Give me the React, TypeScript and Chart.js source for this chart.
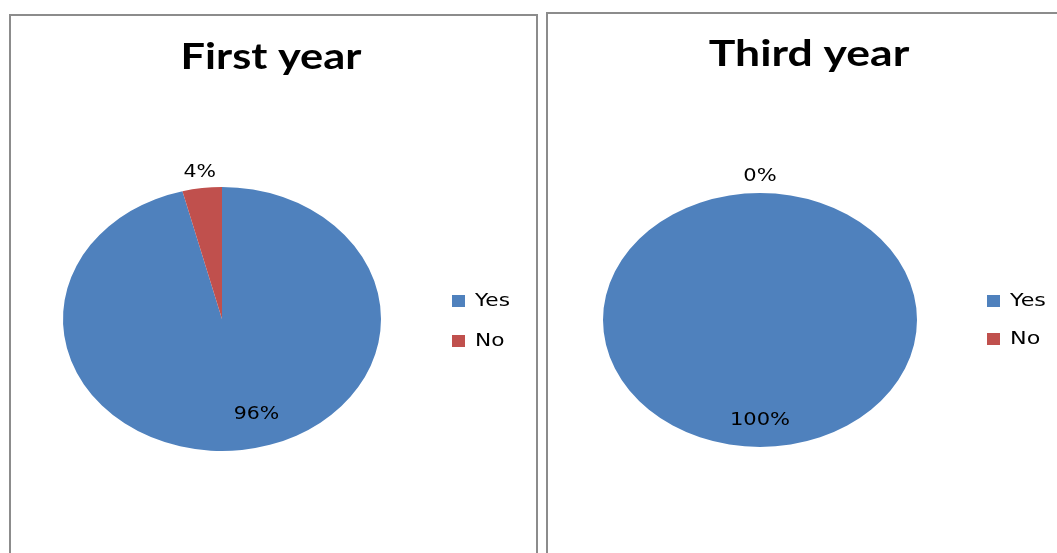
import React, { useEffect, useRef } from "react";
import { Chart, registerables } from "chart.js";

Chart.register(...registerables);

// ---- data ----
const categories: string[] = ["Yes", "No"];
const firstYearValues: number[] = [96, 4];
const thirdYearValues: number[] = [100, 0];
const chartTitles: string[] = ["First year", "Third year"];
const sliceColors: string[] = ["#4F81BD", "#C0504D"];

type PanelGeom = {
  boxLeft: number;
  boxTop: number;
  boxWidth: number;
  canvasW: number;
  canvasH: number;
  cx: number; // pie centre inside canvas (px)
  cy: number;
  rx: number;
  ry: number;
  titleX: number;
  titleY: number;
  legendX: number;
  legendY: number;
  legendGap: number;
  insideFrac: number;
  insideDx: number;
};

const geoms: PanelGeom[] = [
  {
    boxLeft: 9, boxTop: 14, boxWidth: 529,
    canvasW: 525, canvasH: 537,
    cx: 211, cy: 303, rx: 159, ry: 132,
    titleX: 260, titleY: 41,
    legendX: 441, legendY: 276, legendGap: 40,
    insideFrac: 0.73, insideDx: 20,
  },
  {
    boxLeft: 546, boxTop: 12, boxWidth: 530,
    canvasW: 509, canvasH: 539,
    cx: 212, cy: 306, rx: 157, ry: 127,
    titleX: 261, titleY: 40,
    legendX: 439, legendY: 278, legendGap: 38,
    insideFrac: 0.79, insideDx: 0,
  },
];

function PiePanel({ title, values, g }: { title: string; values: number[]; g: PanelGeom }) {
  const ref = useRef<HTMLCanvasElement | null>(null);

  useEffect(() => {
    const canvas = ref.current;
    if (!canvas) return;
    const sx = g.rx / g.ry;
    const lcx = g.cx / sx;
    const padding = {
      left: lcx - g.ry,
      right: g.canvasW - (lcx + g.ry),
      top: g.cy - g.ry,
      bottom: g.canvasH - (g.cy + g.ry),
    };
    const total = values.reduce((a, b) => a + b, 0);

    const stretchPlugin = {
      id: "stretchAndLabels",
      beforeDraw(chart: any) {
        const ctx = chart.ctx;
        ctx.save();
        ctx.scale(sx, 1);
      },
      afterDraw(chart: any) {
        const ctx = chart.ctx;
        // title
        ctx.fillStyle = "#000";
        ctx.textAlign = "center";
        ctx.textBaseline = "middle";
        ctx.font = "bold 36px Lato";
        ctx.fillText(title, g.titleX / sx, g.titleY);

        // data labels
        const meta = chart.getDatasetMeta(0);
        ctx.font = "17px 'DejaVu Sans'";
        meta.data.forEach((arc: any, i: number) => {
          const p = arc.getProps(["x", "y", "startAngle", "endAngle", "outerRadius"], true);
          const mid = (p.startAngle + p.endAngle) / 2;
          const share = total ? values[i] / total : 0;
          const inside = share >= 0.1;
          const dist = inside ? p.outerRadius * g.insideFrac : p.outerRadius + 16;
          const x = p.x + Math.cos(mid) * dist + (inside ? g.insideDx / sx : 0);
          const y = p.y + Math.sin(mid) * dist;
          ctx.fillStyle = "#000";
          ctx.fillText(Math.round(share * 100) + "%", x, y);
        });

        // legend
        ctx.font = "18px 'DejaVu Sans'";
        ctx.textAlign = "left";
        categories.forEach((c, i) => {
          const y = g.legendY + i * g.legendGap;
          ctx.fillStyle = sliceColors[i];
          ctx.fillRect(g.legendX / sx, y + 3, 13 / sx, 12);
          ctx.fillStyle = "#000";
          ctx.fillText(c, (g.legendX + 23) / sx, y + 9);
        });
        ctx.restore();
      },
    };

    const chart = new Chart(canvas, {
      type: "pie",
      data: {
        labels: categories,
        datasets: [
          {
            data: values,
            backgroundColor: sliceColors,
            borderWidth: 0,
          },
        ],
      },
      options: {
        animation: false,
        responsive: true,
        maintainAspectRatio: false,
        layout: { padding },
        plugins: {
          legend: { display: false },
          title: { display: false },
          tooltip: { enabled: false },
        },
      },
      plugins: [stretchPlugin],
    });
    return () => chart.destroy();
  }, [title, values, g]);

  return (
    <div
      style={{
        position: "absolute",
        left: g.boxLeft,
        top: g.boxTop,
        width: g.boxWidth,
        height: 600,
        border: "2px solid #8c8c8c",
        boxSizing: "border-box",
        background: "#fff",
      }}
    >
      <div style={{ position: "relative", width: g.canvasW, height: g.canvasH }}>
        <canvas ref={ref} />
      </div>
    </div>
  );
}

export default function App() {
  return (
    <div
      style={{
        position: "fixed",
        left: 0,
        top: 0,
        width: 1057,
        height: 553,
        overflow: "hidden",
        background: "#fff",
      }}
    >
      <PiePanel title={chartTitles[0]} values={firstYearValues} g={geoms[0]} />
      <PiePanel title={chartTitles[1]} values={thirdYearValues} g={geoms[1]} />
    </div>
  );
}
